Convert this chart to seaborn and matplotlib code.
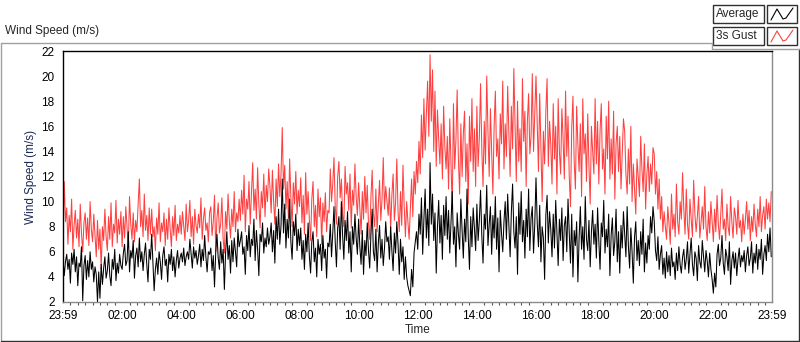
import matplotlib
matplotlib.use('Agg')

import numpy as np
import pandas as pd
import matplotlib.pyplot as plt
import seaborn as sns
from matplotlib.lines import Line2D
from matplotlib.patches import Rectangle

# 2.5-minute samples, one row per hour (m/s)
average = [
    5.5, 4.1, 5.2, 5.8, 4.6, 5.4, 3.5, 5.9, 5.0, 6.2, 4.4, 5.6, 3.3, 5.1, 4.8, 6.4, 2.1, 4.9, 5.7, 3.8, 5.3, 4.0, 6.0, 4.6,
    5.2, 3.6, 4.8, 4.2, 2.0, 4.4, 2.3, 5.0, 3.4, 4.7, 5.6, 3.9, 4.5, 5.9, 4.1, 3.3, 5.4, 4.6, 6.2, 3.7, 5.1, 4.3, 5.8, 4.9,
    4.6, 5.9, 6.6, 4.9, 5.3, 7.6, 4.4, 6.1, 5.5, 6.9, 3.9, 5.7, 6.3, 4.8, 7.1, 5.2, 6.0, 4.5, 5.8, 6.7, 5.0, 3.6, 6.2, 5.4,
    7.4, 5.1, 2.9, 4.6, 5.5, 4.2, 6.0, 5.2, 3.8, 5.7, 6.4, 4.9, 5.4, 3.6, 5.8, 5.0, 6.2, 4.5, 5.6, 4.0, 5.3, 6.1, 4.7, 5.5,
    5.9, 5.2, 6.3, 4.9, 5.6, 6.0, 5.4, 7.0, 5.8, 4.7, 6.4, 5.5, 6.1, 5.0, 5.7, 6.6, 4.8, 6.2, 5.3, 7.3, 5.6, 4.4, 6.0, 5.8,
    6.3, 4.5, 5.7, 3.2, 6.0, 7.4, 5.5, 4.6, 6.8, 5.1, 6.2, 3.0, 5.9, 7.6, 5.4, 6.5, 4.3, 6.9, 5.2, 7.1, 6.0, 4.8, 7.8, 6.4,
    6.9, 7.6, 5.8, 6.4, 4.2, 7.3, 6.1, 8.1, 5.6, 7.0, 6.5, 8.6, 5.3, 7.7, 6.2, 4.1, 7.4, 6.8, 8.3, 5.9, 7.1, 6.4, 7.9, 6.6,
    7.2, 8.3, 6.0, 7.7, 5.1, 8.8, 7.0, 9.4, 6.6, 8.1, 11.8, 7.5, 9.8, 6.3, 8.6, 7.1, 10.2, 6.8, 5.4, 8.4, 7.3, 9.0, 6.1, 7.8,
    6.5, 7.9, 5.4, 6.9, 4.6, 7.4, 6.0, 8.3, 5.7, 4.3, 6.8, 7.6, 5.2, 6.3, 4.0, 7.0, 5.8, 6.6, 4.5, 7.3, 5.5, 6.2, 3.9, 6.7,
    6.4, 8.2, 5.6, 7.5, 9.6, 6.8, 4.8, 7.9, 8.8, 6.2, 10.0, 7.3, 5.4, 8.5, 6.9, 9.2, 5.9, 7.6, 4.4, 8.0, 6.6, 9.0, 7.1, 5.8,
    8.6, 6.4, 5.0, 7.7, 4.2, 6.9, 5.7, 8.3, 6.1, 4.7, 7.4, 9.4, 6.0, 5.3, 7.8, 4.4, 6.7, 8.1, 5.5, 7.0, 4.9, 6.3, 8.4, 6.8,
    7.2, 5.4, 8.0, 6.1, 4.5, 7.5, 5.9, 8.4, 6.6, 4.2, 7.0, 5.2, 6.4, 3.8, 5.6, 4.0, 3.3, 2.9, 2.5, 4.6, 3.2, 5.9, 6.8, 7.6,
    6.2, 9.0, 7.4, 10.3, 5.8, 8.6, 11.0, 7.1, 9.4, 6.5, 13.1, 8.2, 10.6, 6.9, 9.1, 4.3, 8.0, 10.1, 6.7, 8.9, 5.4, 9.7, 7.3, 10.4,
    7.0, 9.3, 5.9, 8.4, 10.8, 6.6, 8.0, 4.8, 9.1, 7.4, 6.2, 10.2, 7.7, 5.5, 8.6, 6.8, 11.0, 7.2, 4.6, 8.8, 6.4, 9.5, 7.9, 6.1,
    9.8, 6.9, 8.5, 10.9, 7.3, 5.1, 9.0, 7.8, 11.3, 6.5, 8.2, 9.6, 5.8, 8.9, 7.1, 10.4, 6.2, 8.7, 4.4, 9.3, 7.5, 6.0, 8.4, 10.0,
    7.0, 10.6, 8.1, 5.6, 9.2, 11.4, 7.6, 6.3, 8.8, 4.2, 9.9, 7.4, 10.8, 6.8, 8.5, 5.5, 9.4, 7.2, 11.0, 6.1, 8.7, 9.6, 5.9, 8.2,
    11.9, 8.3, 6.4, 9.7, 5.2, 8.0, 7.1, 3.8, 8.9, 10.5, 6.7, 9.2, 7.8, 5.6, 9.0, 6.3, 10.1, 7.4, 4.9, 8.6, 6.9, 9.5, 5.3, 8.1,
    8.8, 6.0, 10.2, 7.5, 5.1, 9.0, 4.0, 7.7, 6.5, 8.4, 3.6, 7.1, 9.6, 6.2, 8.0, 5.4, 10.4, 7.0, 6.1, 8.5, 4.8, 7.6, 9.3, 6.6,
    8.2, 5.5, 9.5, 6.9, 4.6, 8.3, 7.2, 10.1, 5.9, 7.8, 6.4, 9.0, 4.1, 7.3, 8.7, 5.7, 6.8, 9.4, 5.2, 7.6, 4.3, 8.1, 6.3, 9.2,
    7.4, 5.6, 9.6, 6.5, 4.7, 7.9, 6.0, 3.5, 7.2, 8.4, 5.3, 6.9, 4.9, 7.6, 5.8, 8.6, 4.4, 6.7, 5.1, 7.3, 6.2, 8.8, 7.5, 9.6,
    8.4, 6.1, 5.3, 7.2, 4.6, 5.8, 6.5, 4.2, 5.5, 3.9, 6.0, 4.4, 5.7, 4.1, 6.3, 4.8, 5.2, 3.8, 5.9, 4.5, 6.4, 5.0, 4.3, 5.6,
    6.2, 4.6, 5.4, 6.8, 4.3, 5.8, 7.1, 5.0, 4.1, 6.0, 5.5, 3.7, 6.5, 5.2, 4.7, 6.9, 5.6, 4.4, 6.1, 5.3, 4.0, 5.9, 4.6, 3.8,
    2.7, 4.3, 3.2, 5.8, 6.6, 4.9, 5.5, 7.3, 5.1, 4.2, 6.2, 5.6, 4.5, 6.8, 3.4, 5.3, 6.0, 4.7, 5.9, 4.1, 5.4, 6.3, 4.8, 5.7,
    5.2, 6.1, 4.4, 5.7, 6.4, 4.9, 5.5, 6.8, 4.3, 5.9, 5.1, 6.6, 4.6, 6.2, 5.4, 7.0, 4.2, 5.8, 6.5, 5.3, 7.4, 6.0, 7.9, 5.6,
]

gust = [
    7.0, 11.6, 8.4, 9.5, 6.6, 8.9, 7.6, 10.2, 6.2, 8.1, 9.3, 7.1, 8.6, 6.4, 9.8, 7.5, 6.0, 8.3, 9.1, 7.0, 8.7, 6.5, 10.0, 7.8,
    6.8, 9.0, 7.3, 5.6, 8.5, 6.2, 7.8, 4.6, 8.0, 6.9, 9.4, 7.2, 6.1, 8.8, 7.0, 9.9, 6.4, 8.2, 7.5, 10.1, 6.7, 8.6, 7.4, 9.2,
    6.4, 8.8, 7.1, 9.6, 7.9, 6.3, 10.4, 8.2, 7.0, 9.1, 6.8, 8.5, 7.6, 9.8, 11.8, 8.0, 9.3, 7.2, 10.6, 7.7, 8.9, 6.9, 9.5, 7.4,
    9.4, 7.2, 8.0, 6.1, 8.7, 7.4, 9.9, 6.8, 8.3, 7.6, 9.1, 6.5, 8.6, 7.0, 9.5, 7.8, 6.4, 8.8, 7.3, 9.7, 6.9, 8.2, 7.5, 8.9,
    7.4, 9.2, 8.0, 6.9, 9.8, 7.6, 8.5, 10.1, 7.2, 8.8, 6.6, 9.4, 8.1, 7.5, 9.0, 7.9, 10.3, 7.0, 8.6, 9.5, 7.7, 8.3, 6.8, 9.1,
    9.6, 7.3, 8.4, 10.5, 6.0, 8.7, 9.9, 7.5, 8.2, 10.3, 7.0, 5.9, 9.2, 7.8, 10.6, 8.5, 7.1, 9.4, 8.0, 10.8, 7.6, 9.1, 8.4, 10.2,
    8.5, 10.9, 9.0, 12.1, 7.6, 10.2, 9.4, 11.6, 8.2, 10.6, 13.1, 9.3, 11.0, 8.6, 12.7, 9.8, 7.9, 10.8, 9.5, 12.2, 8.8, 11.3, 10.0, 12.6,
    11.2, 9.1, 12.5, 10.0, 8.2, 11.8, 9.6, 13.0, 10.4, 12.2, 15.9, 11.0, 12.9, 9.4, 11.6, 8.7, 13.4, 10.3, 8.0, 11.5, 9.8, 12.4, 9.0, 10.9,
    9.6, 11.9, 8.3, 10.5, 7.4, 12.3, 9.0, 10.8, 8.6, 6.9, 10.2, 11.6, 8.0, 9.7, 7.2, 11.0, 8.8, 10.3, 6.6, 9.9, 8.4, 10.7, 7.6, 9.3,
    9.1, 12.6, 10.0, 11.4, 13.5, 9.6, 8.2, 12.0, 13.2, 10.3, 11.8, 9.0, 8.0, 12.8, 10.6, 11.5, 9.3, 12.2, 7.9, 10.9, 9.7, 13.0, 10.4, 8.9,
    11.5, 9.5, 7.4, 10.8, 8.6, 12.0, 9.1, 11.3, 8.2, 7.0, 10.4, 12.5, 9.0, 8.0, 11.0, 7.6, 9.8, 11.7, 8.5, 10.2, 13.5, 9.4, 11.2, 10.0,
    8.9, 11.1, 7.8, 10.5, 12.2, 8.5, 9.9, 13.4, 9.2, 7.6, 10.8, 8.1, 12.9, 9.6, 7.2, 10.0, 8.4, 7.0, 9.3, 11.8, 8.8, 12.4, 10.6, 13.2,
    11.5, 14.8, 12.2, 16.9, 13.5, 18.2, 14.1, 17.0, 19.6, 15.2, 21.7, 16.4, 20.5, 14.0, 18.8, 12.8, 17.3, 15.0, 13.0, 16.2, 11.8, 17.6, 14.4, 12.6,
    15.2, 11.0, 16.6, 13.0, 9.4, 17.8, 12.6, 14.9, 18.9, 13.4, 10.6, 16.2, 12.0, 15.4, 17.2, 11.6, 14.6, 9.8, 16.8, 13.2, 18.2, 12.4, 15.8, 11.2,
    17.6, 12.8, 15.1, 19.4, 14.2, 11.2, 16.4, 13.0, 20.0, 15.6, 12.0, 17.4, 14.0, 10.6, 16.0, 18.8, 13.6, 15.0, 11.8, 17.0, 14.6, 19.6, 12.6, 16.2,
    13.6, 19.2, 15.4, 12.0, 17.6, 14.2, 20.6, 16.0, 11.6, 18.0, 13.2, 15.8, 12.4, 19.8, 14.8, 17.2, 11.2, 16.4, 18.6, 13.8, 15.2, 20.2, 14.0, 17.0,
    20.0, 16.2, 12.4, 18.6, 14.4, 10.0, 15.6, 13.0, 17.2, 19.8, 12.8, 16.4, 14.6, 11.4, 17.8, 13.4, 16.0, 10.6, 18.2, 14.0, 12.2, 17.4, 15.0, 11.8,
    18.8, 13.6, 16.8, 12.0, 9.6, 15.8, 18.4, 13.2, 11.0, 17.6, 14.6, 12.4, 16.2, 10.4, 18.2, 13.8, 15.4, 11.6, 17.0, 12.8, 9.8, 16.0, 14.0, 12.2,
    18.2, 13.0, 16.4, 11.4, 15.6, 17.8, 12.6, 14.2, 10.6, 16.8, 13.4, 18.0, 11.8, 15.0, 12.2, 17.2, 10.2, 14.6, 16.0, 12.4, 15.2, 11.0, 13.8, 16.6,
    15.6, 12.2, 10.6, 14.2, 11.4, 16.0, 10.0, 13.0, 11.0, 9.0, 13.4, 12.0, 10.4, 15.2, 12.6, 10.8, 14.6, 9.4, 12.2, 13.6, 10.8, 13.0, 11.4, 14.3,
    13.8, 10.6, 12.4, 9.4, 11.8, 8.6, 10.4, 7.6, 9.2, 8.0, 7.0, 9.6, 8.2, 6.6, 10.6, 7.8, 9.0, 7.2, 11.4, 8.4, 7.4, 10.0, 8.6, 12.3,
    9.4, 7.4, 11.0, 8.2, 7.0, 10.2, 8.6, 7.2, 11.7, 9.0, 7.6, 8.8, 10.4, 7.1, 8.3, 9.6, 7.8, 11.2, 8.0, 6.9, 9.2, 7.5, 10.0, 8.4,
    6.8, 9.4, 7.6, 10.5, 8.2, 7.0, 9.0, 11.0, 7.8, 8.6, 6.9, 9.8, 8.0, 7.3, 10.4, 8.4, 7.1, 9.5, 8.8, 7.4, 10.1, 7.9, 8.5, 6.8,
    9.0, 7.4, 8.6, 10.0, 7.8, 9.3, 6.9, 8.8, 7.6, 9.8, 8.2, 7.2, 9.4, 8.0, 10.4, 7.6, 8.9, 9.6, 7.8, 10.2, 8.6, 9.9, 8.4, 10.8,
]

tick_minutes = [0, 120, 240, 360, 480, 600, 720, 840, 960, 1080, 1200, 1320, 1439]
tick_labels = ['23:59', '02:00', '04:00', '06:00', '08:00', '10:00', '12:00',
               '14:00', '16:00', '18:00', '20:00', '22:00', '23:59']

sns.set_style('white')
plt.rcParams['font.family'] = ['Liberation Sans', 'DejaVu Sans']

W, H = 800, 342


def fx(x):
    return x / W


def fy(y):
    return 1 - y / H


df = pd.DataFrame({'Time': np.arange(len(average)) * 2.5,
                   'Average': average, '3s Gust': gust})

fig = plt.figure(figsize=(8, 3.42), dpi=100)
ax = fig.add_axes([fx(63), fy(302), fx(772 - 63), (302 - 51) / H])

sns.lineplot(data=df, x='Time', y='3s Gust', color='#ff4040', lw=0.75, ax=ax)
sns.lineplot(data=df, x='Time', y='Average', color='black', lw=0.75, ax=ax)

ax.set_xlim(0, 1439)
ax.set_ylim(2, 22)
ax.set_yticks(range(2, 23, 2))
ax.set_xticks(tick_minutes)
ax.set_xticklabels(tick_labels)
minors = [m for m in range(0, 1440, 15) if m not in tick_minutes]
ax.set_xticks(minors, minor=True)
ax.tick_params(axis='both', which='major', direction='out', length=4, width=0.8,
               labelsize=8.5, colors='black', pad=2)
ax.tick_params(axis='x', which='minor', direction='out', length=2.5, width=0.8,
               bottom=True)
ax.tick_params(axis='x', which='both', color='#555555')
ax.set_xlabel('Time', fontsize=8.5, labelpad=1)
ax.set_ylabel('Wind Speed (m/s)', fontsize=8.5, color='#1b2a55', labelpad=3)

for side in ['top', 'left']:
    ax.spines[side].set_color('black')
    ax.spines[side].set_linewidth(1)
for side in ['right', 'bottom']:
    ax.spines[side].set_color('#8a8a8a')
    ax.spines[side].set_linewidth(1)

# outer frame of the graph panel
gray = '#a0a0a0'
dark = '#303030'
fig.add_artist(Line2D([fx(0.5), fx(712)], [fy(42.5), fy(42.5)], color=gray, lw=1))
fig.add_artist(Line2D([fx(0.5), fx(0.5)], [fy(42.5), fy(340.5)], color=gray, lw=1))
fig.add_artist(Line2D([fx(0.5), fx(799)], [fy(340.5), fy(340.5)], color=dark, lw=1))
fig.add_artist(Line2D([fx(799), fx(799)], [fy(49), fy(340.5)], color=dark, lw=1))
fig.add_artist(Line2D([fx(712), fx(800)], [fy(49), fy(49)], color=gray, lw=1))
fig.add_artist(Line2D([fx(712), fx(712)], [fy(42.5), fy(49)], color=gray, lw=1))

fig.text(fx(5), fy(31), 'Wind Speed (m/s)', fontsize=8.5, va='center', ha='left')

# legend panel
for row, (name, col) in enumerate([('Average', 'black'), ('3s Gust', '#ff4040')]):
    top = 5 + row * 22
    fig.add_artist(Rectangle((fx(713), fy(top + 18)), fx(51), 18 / H,
                             transform=fig.transFigure, fill=False,
                             edgecolor=dark, lw=1))
    fig.add_artist(Rectangle((fx(767), fy(top + 18)), fx(30), 18 / H,
                             transform=fig.transFigure, fill=False,
                             edgecolor=dark, lw=1))
    fig.text(fx(716), fy(top + 9), name, fontsize=8.5, va='center', ha='left')
    fig.add_artist(Line2D([fx(771), fx(777), fx(783), fx(786), fx(793)],
                          [fy(top + 15), fy(top + 4), fy(top + 14), fy(top + 13), fy(top + 3)],
                          color=col, lw=0.8))

fig.savefig('out.png', dpi=100)
